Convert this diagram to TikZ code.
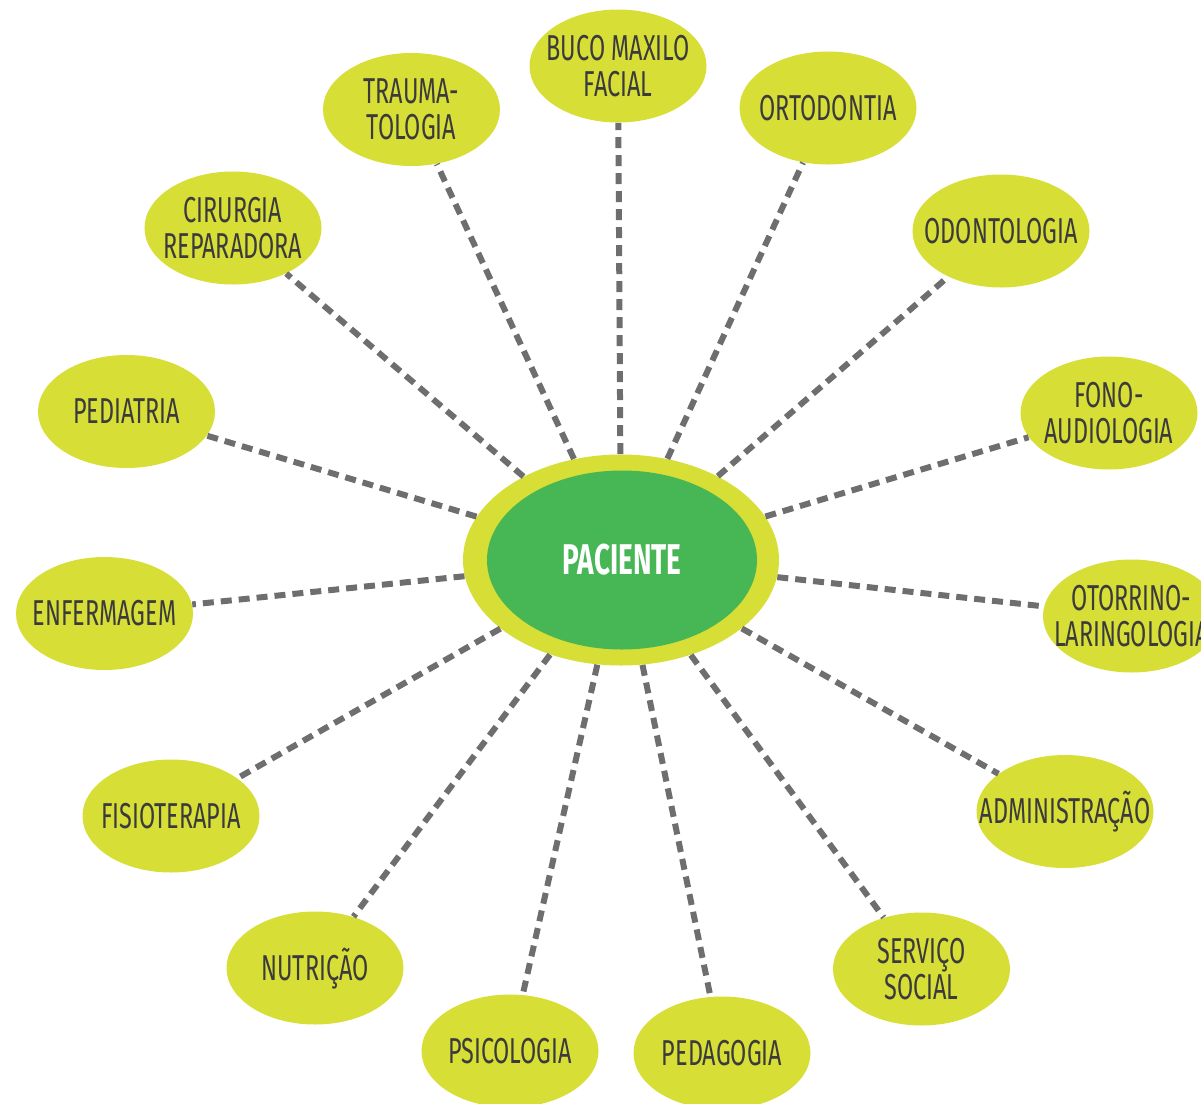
\documentclass[tikz,border=0pt]{standalone}
\usepackage{fontspec}
\usetikzlibrary{shapes.geometric}
\newfontfamily\labelfont{Fira Sans}[FakeStretch=0.65]
\definecolor{lime}{HTML}{D7DE36}
\definecolor{leaf}{HTML}{47B654}
\definecolor{labelgray}{HTML}{3B3A3C}
\definecolor{linkgray}{HTML}{6E6E70}
% label of zero size, so the ellipse keeps its fixed size; the optional
% argument lowers the last baseline so the capitals sit on the centre
\newcommand{\lbl}[2][6.2pt]{\raisebox{-#1}[0pt][0pt]{\makebox[0pt]{\begin{tabular}[b]{@{}c@{}}#2\end{tabular}}}}
\begin{document}
\begin{tikzpicture}[x=0.5pt,y=-0.5pt,
  area/.style={ellipse, fill=lime, minimum width=88.5pt, minimum height=56.5pt,
    inner sep=0pt, text=labelgray,
    font=\labelfont\fontsize{18}{18}\selectfont},
  link/.style={draw=linkgray, line width=3pt, dash pattern=on 5.5pt off 3.5pt}]
\useasboundingbox (0,0) rectangle (1201,1104);
\clip (0,0) rectangle (1201,1104);

% central patient node: yellow ring around a green ellipse
\node[ellipse, fill=lime, minimum width=158pt, minimum height=105.5pt, inner sep=0pt] (pac) at (621,560) {};
\node[ellipse, fill=leaf, minimum width=135pt, minimum height=89.5pt, inner sep=0pt,
  text=white, font=\labelfont\bfseries\fontsize{21.5}{21.5}\selectfont] (pacin) at (622,560) {\lbl[7.4pt]{PACIENTE}};

% surrounding specialities
\node[area] (buco)  at (618,66)   {\lbl[15.2pt]{BUCO MAXILO\\FACIAL}};
\node[area] (trau)  at (411.5,109.5) {\lbl[15.2pt]{TRAUMA-\\TOLOGIA}};
\node[area] (orto)  at (828,108)  {\lbl{ORTODONTIA}};
\node[area] (cir)   at (233,228)  {\lbl[15.2pt]{CIRURGIA\\REPARADORA}};
\node[area] (odon)  at (1001,231) {\lbl{ODONTOLOGIA}};
\node[area] (ped)   at (126.5,411.5) {\lbl{PEDIATRIA}};
\node[area] (fono)  at (1109,413) {\lbl[15.2pt]{FONO-\\AUDIOLOGIA}};
\node[area] (enf)   at (104.5,613.5) {\lbl{ENFERMAGEM}};
\node[area] (oto)   at (1131.5,616) {\lbl[15.2pt]{OTORRINO-\\LARINGOLOGIA}};
\node[area] (fis)   at (171,816)  {\lbl{FISIOTERAPIA}};
\node[area] (adm)   at (1065,811.5) {\lbl{ADMINISTRAÇÃO}};
\node[area] (nut)   at (315,968)  {\lbl{NUTRIÇÃO}};
\node[area] (serv)  at (921.5,969) {\lbl[15.2pt]{SERVIÇO\\SOCIAL}};
\node[area] (psi)   at (510,1051) {\lbl{PSICOLOGIA}};
\node[area] (pedag) at (722,1053) {\lbl{PEDAGOGIA}};

% dashed spokes from the patient to every speciality
\foreach \n in {buco,trau,orto,cir,odon,ped,fono,enf,oto,fis,adm,nut,serv,psi,pedag}
  \draw[link] (pac) -- (\n);
\end{tikzpicture}
\end{document}
